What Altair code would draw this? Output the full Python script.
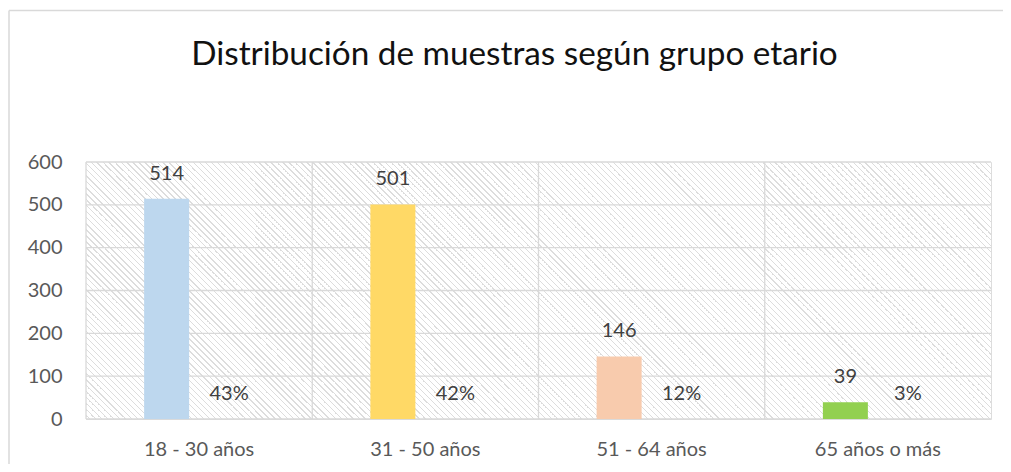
import altair as alt
import pandas as pd

categories = ["18 - 30 años", "31 - 50 años", "51 - 64 años", "65 años o más"]
counts = [514, 501, 146, 39]
percents = [43, 42, 12, 3]
bar_colors = ["#BDD7EE", "#FFD966", "#F8CBAD", "#92D050"]
y_ticks = [0, 100, 200, 300, 400, 500, 600]
title_text = "Distribución de muestras según grupo etario"

W, H = 905, 257
GRID = "#d9d9d9"
FONT = "Lato"

df = pd.DataFrame({
    "grupo": categories,
    "n": counts,
    "pct": [f"{p}%" for p in percents],
    "color": bar_colors,
})
grid_df = pd.DataFrame({"v": y_ticks})

# diagonal hatch background built as a striped linear gradient
r = H / W
k = 1.2
D = W * k * (1 + r * r)
period, lw = 6.0, 1.3
stops = [alt.GradientStop(offset=0, color="#ffffff")]
pos = period / 2
while pos + lw < W + H:
    a, b = pos / D, (pos + lw) / D
    stops += [
        alt.GradientStop(offset=a, color="#ffffff"),
        alt.GradientStop(offset=a, color="#dddddd"),
        alt.GradientStop(offset=b, color="#dddddd"),
        alt.GradientStop(offset=b, color="#ffffff"),
    ]
    pos += period
hatch = alt.LinearGradient(gradient="linear", x1=0, y1=1, x2=k, y2=1 - k * r, stops=stops)

xscale = alt.Scale(domain=categories, paddingInner=0, paddingOuter=0)
yscale = alt.Scale(domain=[0, 600], nice=False)

xaxis = alt.Axis(title=None, domain=False, ticks=False, grid=False, labelAngle=0,
                 labelFont=FONT, labelFontSize=20, labelColor="#595959", labelPadding=20)
yaxis = alt.Axis(title=None, domain=False, ticks=False, grid=False, values=y_ticks,
                 labelFont=FONT, labelFontSize=20, labelColor="#595959", labelPadding=24)

X = alt.X("grupo:N", scale=xscale, sort=categories, axis=xaxis)

one = pd.DataFrame({"a": [0]})

bg = alt.Chart(one).mark_rect(fill=hatch).encode(
    x=alt.value(0), x2=alt.value(W), y=alt.value(0), y2=alt.value(H)
)

# outer chart-area frame (top and left edges visible in the crop)
frame_top = alt.Chart(one).mark_rule(color=GRID, strokeWidth=1.5, clip=False).encode(
    x=alt.value(-77), x2=alt.value(W + 12), y=alt.value(-151.5)
)
frame_left = alt.Chart(one).mark_rule(color=GRID, strokeWidth=1.5, clip=False).encode(
    x=alt.value(-77), y=alt.value(-151.5), y2=alt.value(H + 45)
)

hgrid = alt.Chart(grid_df).mark_rule(color=GRID, strokeWidth=1.3).encode(
    y=alt.Y("v:Q", scale=yscale, axis=yaxis)
)

vgrid = alt.Chart(df).mark_rule(color=GRID, strokeWidth=1.3).encode(
    x=alt.X("grupo:N", scale=xscale, sort=categories, axis=xaxis, bandPosition=0)
)

bars = alt.Chart(df).mark_bar(width=45, xOffset=-32.5).encode(
    x=X,
    y=alt.Y("n:Q", scale=yscale, axis=yaxis),
    color=alt.Color("color:N", scale=None),
)

vals = alt.Chart(df).mark_text(
    dx=-32.5, dy=-19, baseline="alphabetic", font=FONT, fontSize=20, color="#404040"
).encode(x=X, y=alt.Y("n:Q", scale=yscale, axis=yaxis), text="n:Q")

pcts = alt.Chart(df).mark_text(
    dx=30, dy=-19, baseline="alphabetic", font=FONT, fontSize=20, color="#404040"
).encode(x=X, y=alt.datum(0), text="pct:N")

chart = alt.layer(bg, hgrid, vgrid, bars, vals, pcts, frame_top, frame_left).properties(
    width=W,
    height=H,
    autosize=alt.AutoSizeParams(type="none"),
    padding={"left": 78, "top": 154, "right": 12, "bottom": 45},
    title=alt.TitleParams(
        title_text, font=FONT, fontSize=33.3, fontWeight="normal", color="#111111",
        anchor="middle", dx=-24, offset=-89, baseline="alphabetic",
    ),
).configure_view(stroke=GRID, strokeWidth=1.3).configure(background="white")

chart.save("out.html", embed_options={"renderer": "svg", "actions": False})
